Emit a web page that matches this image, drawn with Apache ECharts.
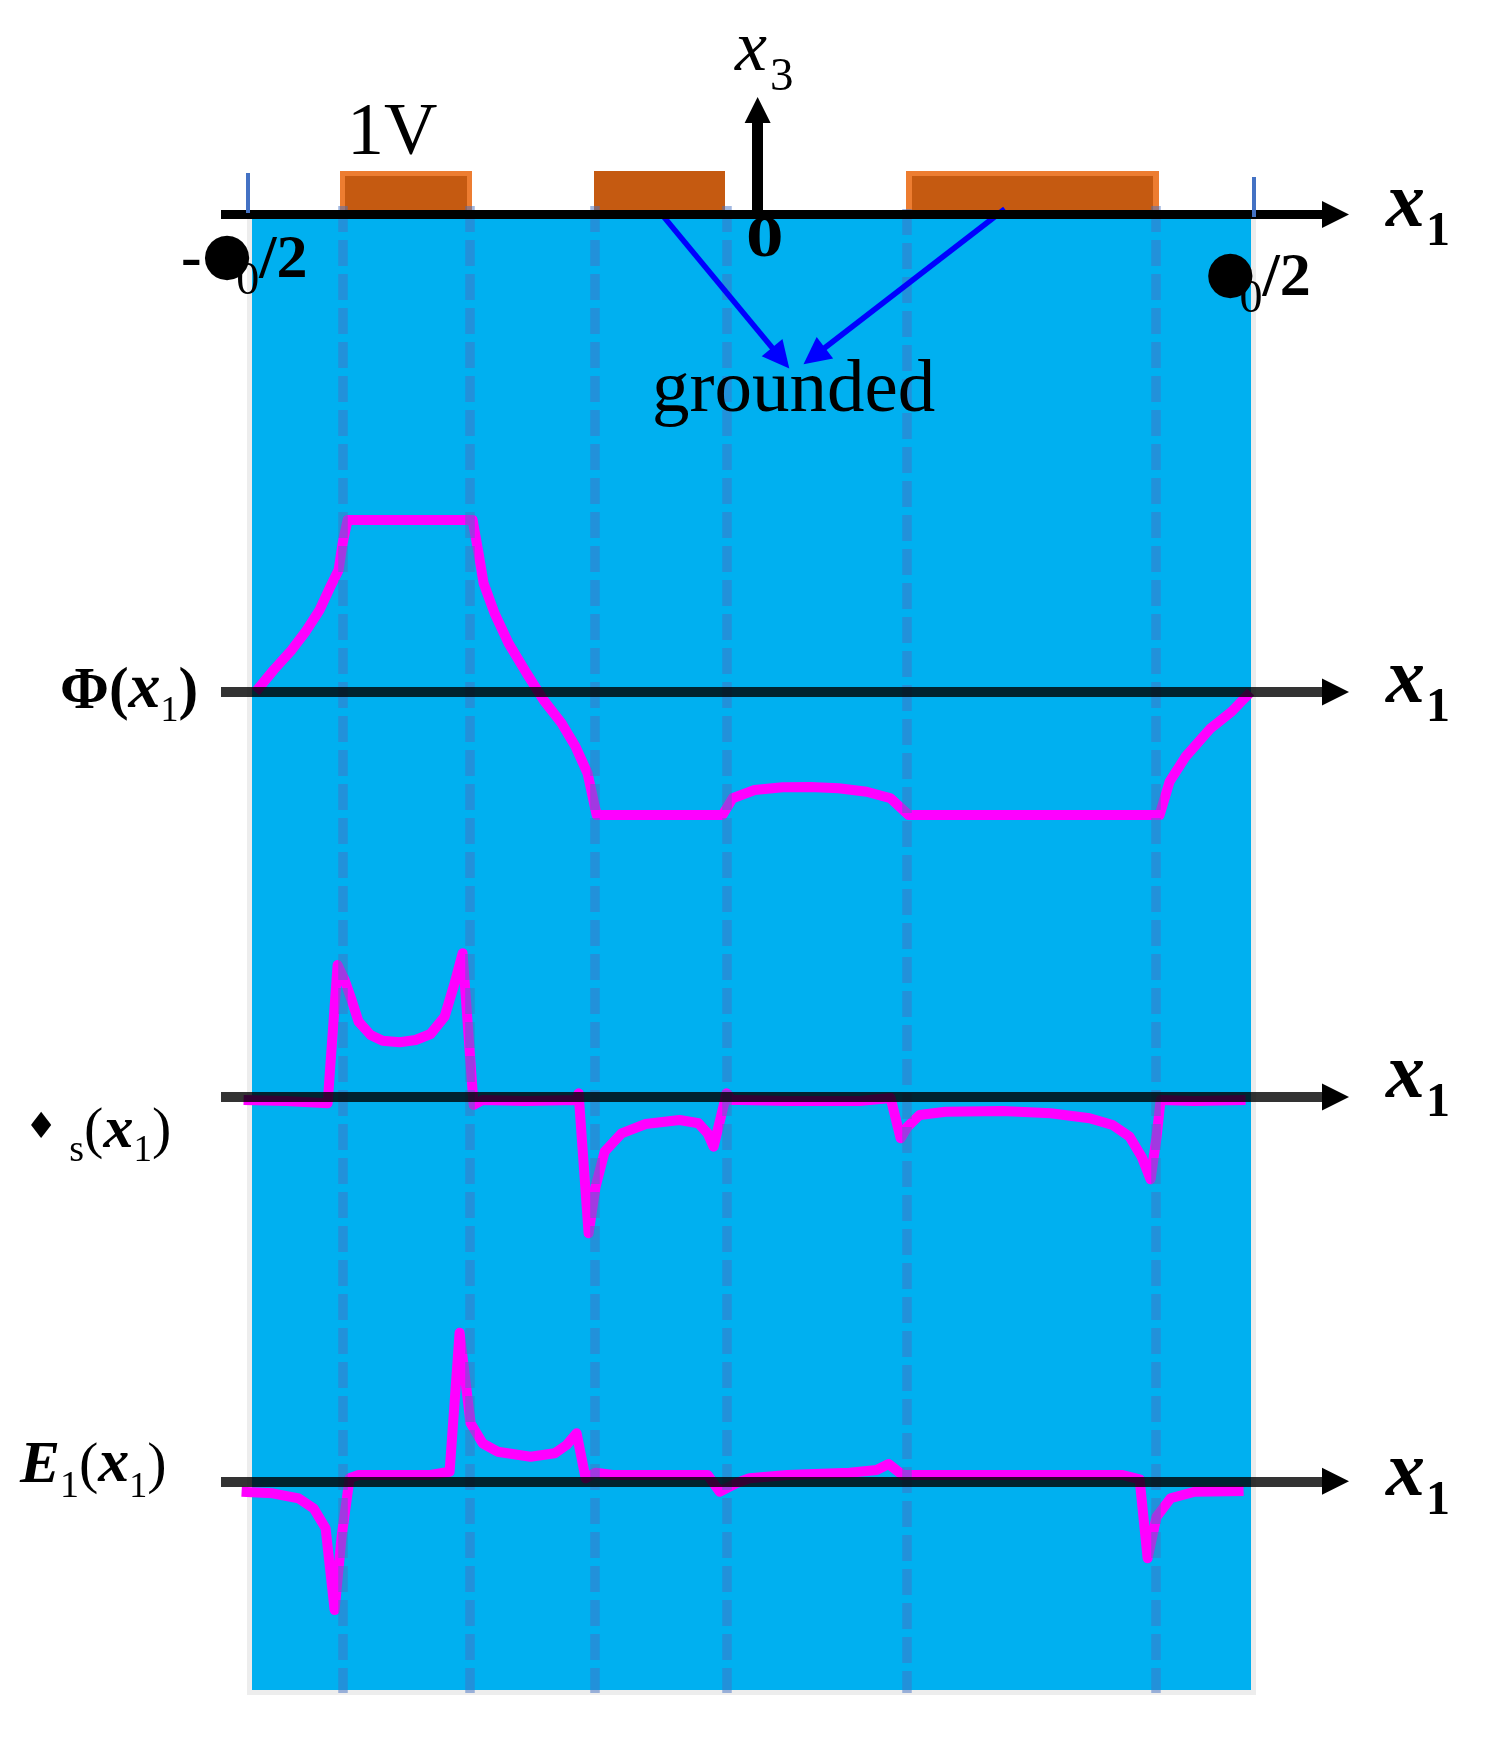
<!DOCTYPE html>
<html><head><meta charset="utf-8">
<style>html,body{margin:0;padding:0;background:#fff}#c{width:1490px;height:1740px}</style>
<script src="https://cdn.jsdelivr.net/npm/echarts@6/dist/echarts.min.js"></script>
</head><body><div id="c"></div>
<script>
// x1 in units where lambda0 is about 100
const phiX = [-50.2,-48.4,-46.6,-45.2,-43.8,-42.8,-41.9,-41.5,-41.0,-28.5,-27.9,-27.4,-26.3,-24.9,-23.1,-21.4,-19.6,-18.2,-17.0,-16.1,-3.5,-2.5,-0.3,2.5,5.3,8.1,10.9,13.3,15.1,40.2,41.2,42.8,45.3,47.4,49.3];
const phiY = [0.0,0.128,0.244,0.351,0.477,0.603,0.709,0.864,1.0,1.0,0.806,0.632,0.457,0.283,0.109,-0.047,-0.182,-0.318,-0.473,-0.715,-0.715,-0.618,-0.570,-0.554,-0.552,-0.560,-0.580,-0.618,-0.715,-0.715,-0.521,-0.376,-0.211,-0.114,0.0];
const rhoX = [-51.4,-47.1,-43.0,-42.0,-41.3,-40.6,-39.9,-38.7,-37.5,-35.8,-34.2,-32.7,-31.3,-30.3,-29.5,-28.4,-27.5,-23.2,-18.1,-17.9,-16.9,-16.2,-15.3,-13.6,-11.2,-7.8,-5.9,-5.0,-4.4,-3.1,-2.6,-1.8,3.0,10.2,13.3,14.3,15.0,16.2,18.8,24.5,29.3,33.2,35.5,37.2,38.4,39.3,39.9,40.3,43.7,48.8];
const rhoY = [-0.03,-0.04,-0.063,1.32,1.17,0.97,0.753,0.62,0.563,0.547,0.57,0.63,0.803,1.137,1.437,-0.08,-0.03,-0.04,-0.03,0.037,-1.363,-0.897,-0.547,-0.363,-0.27,-0.23,-0.263,-0.363,-0.497,0.037,-0.03,-0.03,-0.04,-0.04,-0.01,-0.413,-0.297,-0.18,-0.147,-0.14,-0.163,-0.213,-0.28,-0.397,-0.597,-0.823,-0.397,-0.03,-0.04,-0.03];
const eX = [-51.6,-48.5,-45.9,-44.4,-43.2,-42.3,-41.6,-40.8,-39.9,-32.7,-30.8,-29.8,-28.7,-27.5,-26.0,-22.7,-20.3,-19.1,-18.1,-17.2,-16.2,-14.5,-5.0,-3.8,-2.1,-0.8,3.0,9.2,11.9,13.1,14.5,36.5,38.2,39.0,39.9,41.3,43.7,48.6];
const eY = [-0.104,-0.12,-0.17,-0.27,-0.47,-1.287,-0.554,0.03,0.063,0.063,0.096,1.486,0.58,0.38,0.296,0.246,0.28,0.363,0.48,0.03,0.086,0.063,0.063,-0.104,-0.017,0.03,0.063,0.086,0.113,0.173,0.063,0.063,0.02,-0.77,-0.354,-0.17,-0.104,-0.097];
const dashX = [-41.51,-28.81,-16.26,-3.06,14.9,39.8];
const dashTop = [0.85,0.85,0.85,0.85,0.55,0.85];
const electrodeOuter = [[-41.76,-28.56,0,4.35],[-16.36,-3.26,0,4.35],[14.84,40.14,0,4.35]];
const electrodeInner = [[-41.26,-29.06,0,3.85],[-16.36,-3.26,0,4.35],[15.44,39.54,0,3.85]];
const substrate = [[-50.56,49.34,-147.55,-0.35]];
const margin = [[-51.06,49.84,-148.05,-0.35]];
const edgeMarks = [[-51.16,-50.76,0.15,4.15],[49.44,49.84,-0.25,3.75]];
const groundArrows = [[[-9.7,0.15],[2.31,-14.35]],[[24.72,0.55],[5.66,-14.15]]];

const SERIF = '"Liberation Serif"';
// one label from several runs that sit on a shared baseline (d = drop below it)
function label(x, base, runs, extra){
  const lift = Math.max(...runs.map(r => (r.d||0) + 0.2*r.s));
  const rich = {}; let text = '', h = 0;
  runs.forEach((r,i) => {
    const pb = lift - (r.d||0) - 0.2*r.s;
    rich['r'+i] = {fontFamily:r.f||SERIF,fontSize:r.s,fontWeight:r.b?'bold':'normal',fontStyle:r.i?'italic':'normal',
      fill:'#000',verticalAlign:'bottom',padding:[0,r.pr||0,pb,r.pl||0]};
    h = Math.max(h, r.s + pb);
    text += '{r'+i+'|'+r.t+'}';
  });
  return Object.assign({type:'text',x:x,y:base+lift-h,z:100,silent:true,
    style:{text:text,rich:rich,align:'left',verticalAlign:'top',fill:'#000'}},extra||{});
}
const x1Runs = [{t:'x',s:78,b:1,i:1},{t:'1',s:48,b:1,d:18,pl:1}];
const texts = [
  label(1386,229,x1Runs), label(1386,705,x1Runs), label(1386,1100,x1Runs), label(1386,1498,x1Runs),
  label(735,73,[{t:'x',s:72,i:1},{t:'3',s:47,d:19,pl:3}]),
  label(347,157,[{t:'1V',s:74}]),
  label(746,258,[{t:'0',s:60,b:1}],{scaleX:1.25}),
  label(652,414,[{t:'grounded',s:75}]),
  label(181,280,[{t:'-',s:62,b:1},{t:'●',s:58,b:1,d:-5,f:'"DejaVu Sans"'},{t:'0',s:46,d:16,pl:-16},{t:'/2',s:62,b:1}]),
  label(1205,298,[{t:'●',s:58,b:1,d:-5,f:'"DejaVu Sans"'},{t:'0',s:46,d:16,pl:-16},{t:'/2',s:62,b:1}]),
  label(60,710,[{t:'Φ(',s:59,b:1},{t:'x',s:64,b:1,i:1},{t:'1',s:36,d:12,b:0},{t:')',s:59,b:1}]),
  label(25,1149,[{t:'♦',s:36,d:-10,f:'"DejaVu Sans"',pr:12},{t:'s',s:38,d:13},{t:'(',s:58},{t:'x',s:60,b:1,i:1},{t:'1',s:37,d:13},{t:')',s:58}]),
  label(20,1484,[{t:'E',s:60,b:1,i:1},{t:'1',s:38,d:14},{t:'(',s:58},{t:'x',s:62,b:1,i:1},{t:'1',s:36,d:14},{t:')',s:58}])
];

const zip = (a,b) => a.map((v,i) => [v,b[i]]);
const XMIN = -53.66, XMAX = 56.44;
const grids = [
  {left:221,width:1101,top:0,height:1740},
  {left:221,width:1101,top:123,height:91.5},
  {left:221,width:1101,top:485.6,height:378.4},
  {left:221,width:1101,top:937,height:310},
  {left:221,width:1101,top:1311.3,height:320}
];
const HEAD_DOWN = {color:'#000',opacity:0.8,width:10,cap:'butt'};
function xAxis(i,show,style){
  return {type:'value',gridIndex:i,min:XMIN,max:XMAX,z:10,show:show,silent:true,
    splitLine:{show:false},axisTick:{show:false},axisLabel:{show:false},
    axisLine:{show:show,onZero:true,symbol:['none','triangle'],symbolSize:[27,27],symbolOffset:[0,13.5],lineStyle:style}};
}
function yAxis(i,min,max,show){
  return {type:'value',gridIndex:i,min:min,max:max,z:10,show:!!show,silent:true,
    splitLine:{show:false},axisTick:{show:false},axisLabel:{show:false},
    axisLine:{show:!!show,onZero:true,symbol:['none','triangle'],symbolSize:[26,26],symbolOffset:[0,13],lineStyle:{color:'#000',width:11,cap:'butt'}}};
}
function rects(name,data,color,z){
  return {type:'custom',name:name,xAxisIndex:0,yAxisIndex:0,z:z,clip:false,silent:true,data:data,
    renderItem:function(p,api){
      const a=api.coord([api.value(0),api.value(3)]),b=api.coord([api.value(1),api.value(2)]);
      return {type:'rect',shape:{x:a[0],y:a[1],width:b[0]-a[0],height:b[1]-a[1]},style:{fill:color}};
    }};
}
function curve(name,i,xs,ys){
  return {type:'line',name:name,xAxisIndex:i,yAxisIndex:i,data:zip(xs,ys),z:2,clip:false,silent:true,
    showSymbol:false,smooth:false,lineStyle:{color:'#FF00FF',width:10,join:'round'}};
}
const option = {
  animation:false,backgroundColor:'#fff',tooltip:{show:false},
  grid:grids,
  xAxis:[xAxis(0,false),xAxis(1,true,{color:'#000',width:9,cap:'butt'}),xAxis(2,true,HEAD_DOWN),xAxis(3,true,HEAD_DOWN),xAxis(4,true,HEAD_DOWN)],
  yAxis:[yAxis(0,-152.55,21.45),yAxis(1,0,9.15,true),yAxis(2,-1,1.2),yAxis(3,-1.5,1.6),yAxis(4,-1.5,1.7)],
  series:[
    rects('margin',margin,'#EDEDED',0),
    rects('substrate',substrate,'#00B0F0',1),
    rects('electrode edge',electrodeOuter,'#ED7D31',1),
    rects('electrode',electrodeInner,'#C55A11',1),
    curve('Phi',2,phiX,phiY),
    curve('rho',3,rhoX,rhoY),
    curve('E1',4,eX,eY),
    {type:'line',name:'electrode edges',xAxisIndex:0,yAxisIndex:0,data:[],z:3,silent:true,
      markLine:{silent:true,symbol:'none',label:{show:false},
        lineStyle:{color:'#4472C4',opacity:0.5,width:9.5,type:[26,8],cap:'butt'},
        data:dashX.map((x,i)=>[{coord:[x,dashTop[i]]},{coord:[x,-147.85]}])}},
    {type:'line',name:'grounded arrows',xAxisIndex:0,yAxisIndex:0,data:[],z:5,silent:true,
      markLine:{silent:true,symbol:['none','triangle'],symbolSize:[27,27],label:{show:false},
        lineStyle:{color:'#0000FF',width:5.5,type:'solid'},
        data:groundArrows.map(a=>[{coord:a[0]},{coord:a[1]}])}},
    rects('period marks',edgeMarks,'#4472C4',12)
  ],
  graphic:texts
};
const chart = echarts.init(document.getElementById('c'),null,{renderer:'canvas'});
chart.setOption(option);
</script></body></html>
